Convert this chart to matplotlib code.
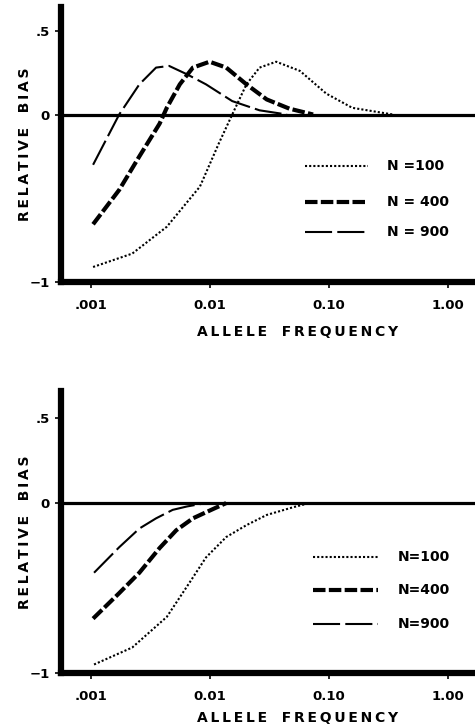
import numpy as np
import matplotlib
matplotlib.use("Agg")
import matplotlib.pyplot as plt

# ---- data (allele frequency, relative bias) ----
# upper panel
top_x100 = [0.00105, 0.00224, 0.00437, 0.0083, 0.0120, 0.0155, 0.0204, 0.0263, 0.0363, 0.0575, 0.0955, 0.158, 0.347]
top_y100 = [-0.91, -0.83, -0.67, -0.43, -0.17, 0.0, 0.18, 0.28, 0.315, 0.26, 0.125, 0.04, 0.0]
top_x400 = [0.00105, 0.00174, 0.00257, 0.0038, 0.00437, 0.00562, 0.00724, 0.0100, 0.0138, 0.0204, 0.0302, 0.0468, 0.0741]
top_y400 = [-0.655, -0.45, -0.25, -0.055, 0.04, 0.18, 0.28, 0.315, 0.28, 0.18, 0.09, 0.035, 0.0]
top_x900 = [0.00105, 0.00174, 0.00257, 0.00355, 0.00457, 0.00646, 0.00933, 0.0155, 0.0263, 0.0447]
top_y900 = [-0.30, 0.0, 0.18, 0.28, 0.29, 0.24, 0.18, 0.08, 0.025, 0.0]

# lower panel
bot_x100 = [0.00107, 0.00224, 0.00437, 0.00676, 0.00933, 0.0138, 0.0204, 0.0302, 0.0501, 0.0692]
bot_y100 = [-0.95, -0.85, -0.67, -0.47, -0.32, -0.20, -0.13, -0.07, -0.025, 0.0]
bot_x400 = [0.00105, 0.00174, 0.00257, 0.0038, 0.00525, 0.00724, 0.0107, 0.0138]
bot_y400 = [-0.68, -0.53, -0.41, -0.265, -0.16, -0.09, -0.035, 0.0]
bot_x900 = [0.00107, 0.00174, 0.00257, 0.00355, 0.0049, 0.00646, 0.00933]
bot_y900 = [-0.41, -0.26, -0.15, -0.09, -0.04, -0.02, 0.0]

xticks = [0.001, 0.01, 0.1, 1.0]
xtick_labels = [".001", "0.01", "0.10", "1.00"]
yticks = [-1, 0, 0.5]
ytick_labels = ["\u22121", "0", ".5"]
top_labels = ["N =100", "N = 400", "N = 900"]
bot_labels = ["N=100", "N=400", "N=900"]

plt.rcParams['font.family'] = ['DejaVu Sans']
plt.rcParams['font.weight'] = 'bold'

styles = [
    dict(color='black', lw=1.5, ls=(0, (1, 1))),
    dict(color='black', lw=3.0, ls=(0, (3, 0.8))),
    dict(color='black', lw=1.5, ls=(0, (13, 2.5))),
]


def spaced(words):
    # the original lettering is tracked out wide
    return "   ".join("\u2009".join(w) for w in words.split())


fig = plt.figure(figsize=(4.75, 7.27), dpi=100)


def panel(rect, ytop, curves, labels, leg_x, leg_text_x, leg_rows, xlab_y):
    ax = fig.add_axes(rect)
    ax.set_xscale('log')
    ax.set_xlim(10 ** -3.25, 10 ** 0.23)
    ax.set_ylim(-1, ytop)
    ax.spines['top'].set_visible(False)
    ax.spines['right'].set_visible(False)
    ax.spines['left'].set_linewidth(4.5)
    ax.spines['bottom'].set_linewidth(4.5)
    ax.axhline(0, color='black', lw=2.3, zorder=1)

    for (xs, ys), st in zip(curves, styles):
        ax.plot(xs, ys, color=st['color'], lw=st['lw'], linestyle=st['ls'],
                dash_capstyle='butt', zorder=2)

    ax.set_xticks(xticks)
    ax.set_xticklabels(xtick_labels, fontsize=9.5, fontweight='bold')
    ax.minorticks_off()
    ax.set_yticks(yticks)
    ax.set_yticklabels(ytick_labels, fontsize=9.5, fontweight='bold')
    ax.tick_params(axis='both', direction='out', length=4, width=1.2, pad=4)
    ax.tick_params(axis='x', pad=8)

    ax.text(-0.087, 0.5, spaced("RELATIVE BIAS"), transform=ax.transAxes, rotation=90,
            fontsize=10, fontweight='bold', ha='center', va='center')
    ax.text(0.572, xlab_y, spaced("ALLELE FREQUENCY"), transform=ax.transAxes,
            fontsize=10, fontweight='bold', ha='center', va='center')

    # hand-placed key, as in the original
    for lab, yr, st in zip(labels, leg_rows, styles):
        ax.plot(leg_x, [yr, yr], transform=ax.transAxes, color='black',
                lw=st['lw'], linestyle=st['ls'], dash_capstyle='butt', clip_on=False)
        ax.text(leg_text_x, yr, lab, transform=ax.transAxes, fontsize=10,
                fontweight='bold', va='center', ha='left')
    return ax


panel([0.128, 0.612, 0.872, 0.378], 0.64,
      [(top_x100, top_y100), (top_x400, top_y400), (top_x900, top_y900)],
      top_labels, [0.589, 0.742], 0.787, [0.422, 0.291, 0.182], -0.18)

panel([0.128, 0.0743, 0.872, 0.388], 0.66,
      [(bot_x100, bot_y100), (bot_x400, bot_y400), (bot_x900, bot_y900)],
      bot_labels, [0.609, 0.766], 0.814, [0.411, 0.294, 0.174], -0.16)

fig.savefig("out.png", dpi=100)
